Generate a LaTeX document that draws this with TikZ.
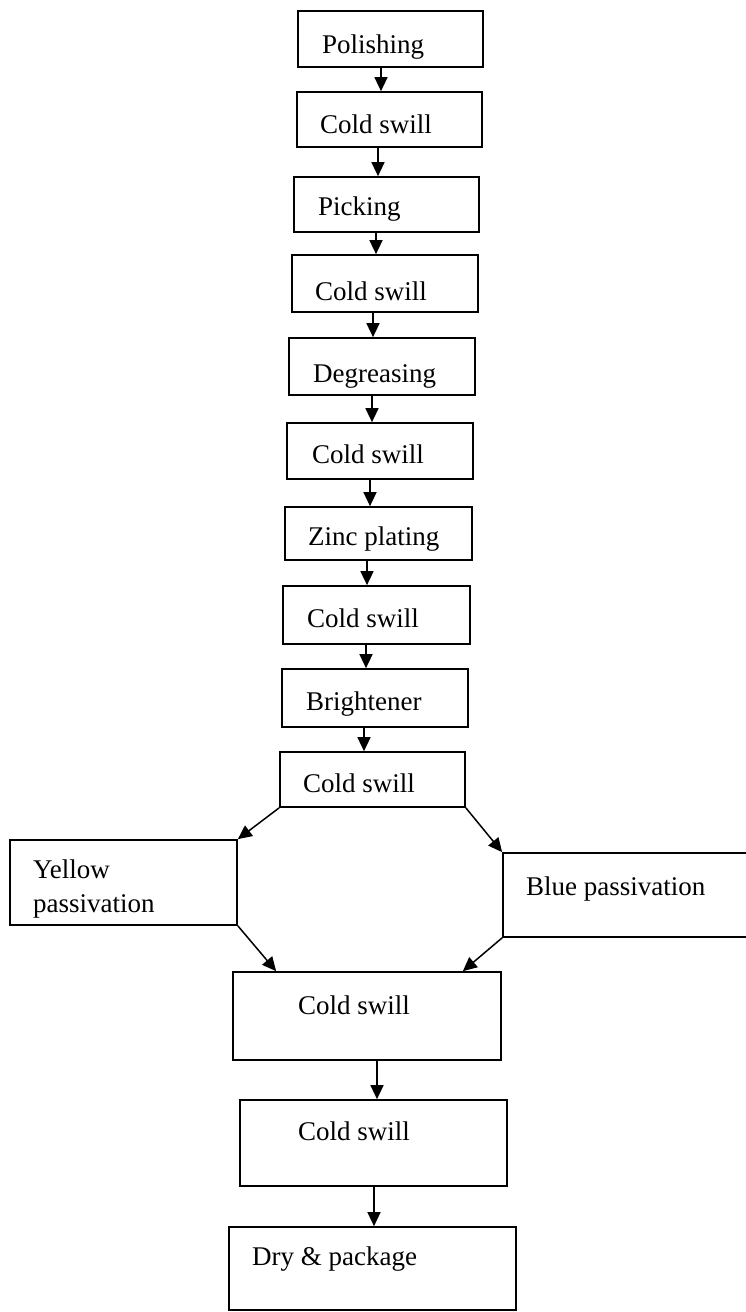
\documentclass[tikz,border=0pt]{standalone}
\usepackage{fontspec}
\setmainfont{Liberation Serif}
\usetikzlibrary{arrows.meta,calc}

\begin{document}
\begin{tikzpicture}[x=1pt, y=-1pt,
  stepbox/.style={draw, line width=1.7pt, inner sep=0pt, rectangle},
  lbl/.style={inner sep=0pt, anchor=base west, font=\fontsize{27}{34}\selectfont, align=left},
  flow/.style={line width=1.5pt, -{Triangle[length=14pt,width=13pt]}}]
\useasboundingbox (0,0) rectangle (746,1312);

% process boxes (centre, width, height)
\node[stepbox, minimum width=185pt, minimum height=56pt] (b1) at (390.5,39) {};
\node[stepbox, minimum width=185pt, minimum height=55pt] (b2) at (389.5,119.5) {};
\node[stepbox, minimum width=185pt, minimum height=55pt] (b3) at (386.5,204.5) {};
\node[stepbox, minimum width=186pt, minimum height=57pt] (b4) at (385,283.5) {};
\node[stepbox, minimum width=186pt, minimum height=57pt] (b5) at (382,366.5) {};
\node[stepbox, minimum width=186pt, minimum height=56pt] (b6) at (380,451) {};
\node[stepbox, minimum width=187pt, minimum height=53pt] (b7) at (378.5,533.5) {};
\node[stepbox, minimum width=187pt, minimum height=58pt] (b8) at (376.5,615) {};
\node[stepbox, minimum width=186pt, minimum height=58pt] (b9) at (375,698) {};
\node[stepbox, minimum width=185pt, minimum height=55pt] (b10) at (372.5,779.5) {};
\node[stepbox, minimum width=227pt, minimum height=85pt] (yel) at (123.5,882.5) {};
\node[stepbox, minimum width=267pt, minimum height=84pt] (blu) at (636.5,895) {};
\node[stepbox, minimum width=268pt, minimum height=88pt] (b11) at (367,1016) {};
\node[stepbox, minimum width=267pt, minimum height=86pt] (b12) at (373.5,1143) {};
\node[stepbox, minimum width=287pt, minimum height=83pt] (b13) at (372.5,1268.5) {};

% box captions
\node[lbl] (t1) at (322,53) {Polishing};
\node[lbl] (t2) at (320,133) {Cold swill};
\node[lbl] (t3) at (318,215) {Picking};
\node[lbl] (t4) at (315,300) {Cold swill};
\node[lbl] (t5) at (313,382) {Degreasing};
\node[lbl] (t6) at (312,463) {Cold swill};
\node[lbl] (t7) at (308,545) {Zinc plating};
\node[lbl] (t8) at (307,627) {Cold swill};
\node[lbl] (t9) at (306,710) {Brightener};
\node[lbl] (t10) at (303,792) {Cold swill};
% two-line caption: its base anchor sits on the last line
\node[lbl] (ty) at (33,912) {Yellow\\passivation};
\node[lbl] (tb) at (526,895) {Blue passivation};
\node[lbl] (t11) at (298,1014) {Cold swill};
\node[lbl] (t12) at (298,1140) {Cold swill};
\node[lbl] (t13) at (252,1265) {Dry \& package};

% landing points on the rinse box after passivation
\coordinate (inL) at ($(b11.north west)+(44,0)$);
\coordinate (inR) at ($(b11.north east)+(-39,0)$);

% main line
\draw[flow] (b1.south -| 381,0) -- (b2.north -| 381,0);
\draw[flow] (b2.south -| 378,0) -- (b3.north -| 378,0);
\draw[flow] (b3.south -| 376,0) -- (b4.north -| 376,0);
\draw[flow] (b4.south -| 373,0) -- (b5.north -| 373,0);
\draw[flow] (b5.south -| 372,0) -- (b6.north -| 372,0);
\draw[flow] (b6.south -| 370,0) -- (b7.north -| 370,0);
\draw[flow] (b7.south -| 367,0) -- (b8.north -| 367,0);
\draw[flow] (b8.south -| 366,0) -- (b9.north -| 366,0);
\draw[flow] (b9.south -| 364,0) -- (b10.north -| 364,0);

% branch into the two passivations and back
\draw[flow] (b10.south west) -- (yel.north east);
\draw[flow] (b10.south east) -- (blu.north west);
\draw[flow] (yel.south east) -- (inL);
\draw[flow] (blu.south west) -- (inR);

% final steps
\draw[flow] (b11.south -| 377,0) -- (b12.north -| 377,0);
\draw[flow] (b12.south -| 374,0) -- (b13.north -| 374,0);
\end{tikzpicture}
\end{document}
